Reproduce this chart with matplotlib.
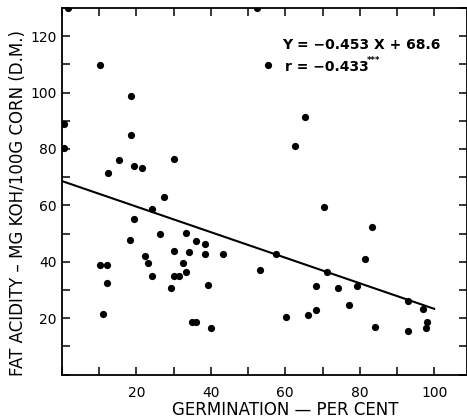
import numpy as np
import matplotlib
matplotlib.use("Agg")
import matplotlib.pyplot as plt
from matplotlib.ticker import MultipleLocator

# germination (per cent) and fat acidity (mg KOH / 100 g corn, D.M.)
germination = [0.5, 0.5, 1.7, 52.4, 10.3, 18.5, 18.5, 12.3, 15.2, 19.4,
               21.4, 30.2, 27.3, 24.3, 55.4, 65.4, 62.6, 70.4, 19.4, 18.2,
               26.4, 33.3, 36.1, 38.3, 38.3, 43.2, 30.1, 34.1, 22.2, 23.1,
               32.4, 33.3, 30.1, 31.5, 24.3, 29.2, 39.2, 10.1, 12.2, 12.1,
               11.0, 35.0, 36.1, 40.0, 83.4, 81.3, 57.4, 53.2, 71.2, 68.2,
               74.1, 79.2, 77.2, 68.2, 66.1, 60.2, 93.1, 97.0, 98.0, 97.9,
               84.1, 93.1]
fat_acidity = [89.0, 80.5, 130.0, 130.0, 109.6, 98.8, 85.0, 71.3, 75.9, 74.0,
               73.1, 76.6, 63.0, 58.7, 109.6, 91.4, 81.0, 59.5, 55.0, 47.6,
               49.7, 50.1, 47.4, 46.2, 42.8, 42.6, 43.8, 43.4, 42.2, 39.7,
               39.6, 36.5, 35.1, 35.1, 35.0, 30.8, 31.8, 39.0, 39.0, 32.3,
               21.3, 18.7, 18.7, 16.6, 52.3, 40.9, 42.8, 36.9, 36.5, 31.4,
               30.6, 31.5, 24.7, 22.8, 21.2, 20.4, 26.2, 23.2, 18.5, 16.5,
               16.7, 15.3]

# regression Y = -0.453 X + 68.6
slope = -0.453
intercept = 68.6
fit_range = [0, 100]

fig = plt.figure(figsize=(4.67, 4.19), dpi=100)
ax = fig.add_axes([0.1328, 0.1062, 0.8662, 0.8748])

ax.plot(germination, fat_acidity, 'o', color='black', markersize=5.2,
        markeredgewidth=0)
xs = np.array(fit_range)
ax.plot(xs, slope * xs + intercept, color='black', linewidth=1.5)

ax.set_xlim(0, 108.7)
ax.set_ylim(0, 130)

ax.xaxis.set_major_locator(MultipleLocator(20))
ax.xaxis.set_minor_locator(MultipleLocator(10))
ax.yaxis.set_major_locator(MultipleLocator(20))
ax.yaxis.set_minor_locator(MultipleLocator(10))
ax.set_xticks([20, 40, 60, 80, 100])
ax.set_yticks([20, 40, 60, 80, 100, 120])

ax.tick_params(which='both', direction='in', top=True, right=True,
               length=5.5, width=1.1, labelsize=10)
ax.tick_params(axis='x', pad=8)
ax.tick_params(axis='y', pad=4)

for s in ax.spines.values():
    s.set_linewidth(1.3)

ax.set_xlabel("GERMINATION — PER CENT", fontsize=12)
ax.xaxis.set_label_coords(0.552, -0.097)
ax.xaxis.label.set_va('center')
ax.set_ylabel("FAT ACIDITY – MG KOH/100G CORN (D.M.)", fontsize=12)
ax.yaxis.set_label_coords(-0.109, 0.469)
ax.yaxis.label.set_va('center')

ax.text(59.2, 116.7, "Y = −0.453 X + 68.6", fontsize=10, fontweight='bold',
        va='center', ha='left')
ax.text(60.0, 109.0, "r = −0.433", fontsize=10, fontweight='bold',
        va='center', ha='left')
ax.text(82.0, 110.5, "***", fontsize=6, fontweight='bold',
        va='baseline', ha='left')

fig.savefig("out.png", dpi=100)
